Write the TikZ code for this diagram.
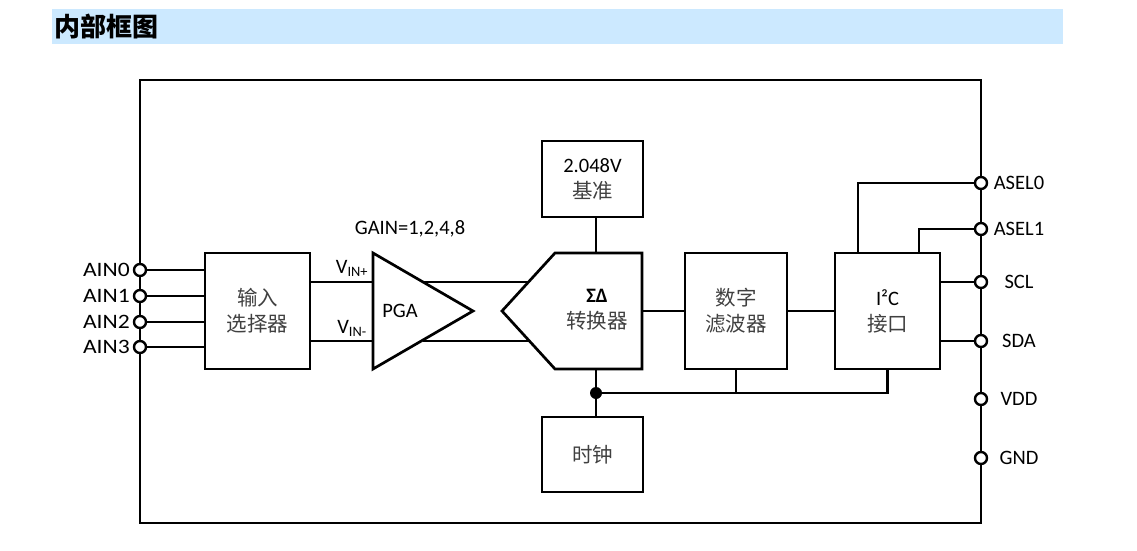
\documentclass[tikz,border=0pt]{standalone}
\usepackage{fontspec}
\setmainfont{Carlito}
\newfontfamily\widefont[FakeStretch=1.15]{Carlito}
\newfontfamily\cjk{Noto Sans CJK SC}
\definecolor{titleblue}{RGB}{204,233,255}
\newcommand\zh[1]{{\cjk\color{black!75}#1}}

\begin{document}
\begin{tikzpicture}[x=1pt, y=-1pt, line join=miter,
    blk/.style={draw, line width=2.7pt, align=center, inner sep=0pt},
    pin/.style={circle, draw, fill=white, line width=2.4pt, minimum size=12pt, inner sep=0pt},
    wire/.style={line width=2.7pt},
    every node/.append style={font=\fontsize{20.5}{26}\selectfont}]
    \useasboundingbox (0,0) rectangle (1137,551);

    % title bar
    \fill [titleblue] (52,9) rectangle (1063,44);
    \node [anchor=west, inner sep=0pt, font=\cjk\bfseries\fontsize{26}{26}\selectfont] (title) at (54,27) {内部框图};

    % chip outline
    \draw [line width=2.7pt] (140,80) rectangle (981,523);

    % blocks
    \node [blk, minimum width=105, minimum height=116] (mux) at (257.5,311) {\zh{输入}\\\zh{选择器}};
    \node [blk, minimum width=101, minimum height=76] (ref) at (592.5,179) {2.048V\\\zh{基准}};
    \node [blk, minimum width=102, minimum height=116] (filt) at (736,311) {\zh{数字}\\\zh{滤波器}};
    \node [blk, minimum width=105, minimum height=116] (i2c) at (887.5,311) {I²C\\\zh{接口}};
    \node [blk, minimum width=101, minimum height=75] (clk) at (592.5,454.5) {\zh{时钟}};

    % PGA
    \coordinate (pgaTL) at (373,253);
    \coordinate (pgaBL) at (373,369);
    \coordinate (pgaTip) at (473,311);
    \draw [wire] (pgaTL) -- (pgaTip) -- (pgaBL) -- cycle;
    \node (pga) at (400,311) {PGA};
    \node (gain) at (410,229) {GAIN=1,2,4,8};
    \coordinate (inP) at (373,282);
    \coordinate (inN) at (373,341);
    \coordinate (pgaP) at (423,282);
    \coordinate (pgaN) at (423,341);

    % sigma-delta converter
    \draw [wire] (555,253) -- (642,253) -- (642,369) -- (555,369) -- (502,311) -- cycle;
    \node [align=center] (adc) at (597,310) {\textbf{ΣΔ}\\\zh{转换器}};
    \coordinate (adcP) at (528.5,282);
    \coordinate (adcN) at (528.5,341);
    \coordinate (adcT) at (596,253);
    \coordinate (adcB) at (596,369);
    \coordinate (adcR) at (642,311);

    % left pins
    \foreach \i/\yy in {0/270, 1/296, 2/322, 3/347} {
        \node [pin] (ain\i) at (140,\yy) {};
        \node [anchor=east, inner sep=0pt, font=\widefont\fontsize{20.5}{26}\selectfont] (ain\i-lbl) at (130,\yy) {AIN\i};
        \draw [wire] (ain\i) -- (ain\i -| mux.west);
    }

    % right pins
    \foreach \name/\txt/\yy in {asel0/ASEL0/183, asel1/ASEL1/229, scl/SCL/282, sda/SDA/341, vdd/VDD/399, gnd/GND/458} {
        \node [pin] (\name) at (981,\yy) {};
        \node [inner sep=0pt] (\name-lbl) at (1019,\yy) {\txt};
    }

    % signal path
    \draw [wire] (mux.east |- inP) -- (inP);
    \draw [wire] (mux.east |- inN) -- (inN);
    \node (vinp) at (352,268) {V\textsubscript{IN+}};
    \node (vinn) at (352,328) {V\textsubscript{IN-}};
    \draw [wire] (pgaP) -- (adcP);
    \draw [wire] (pgaN) -- (adcN);
    \draw [wire] (ref.south -| adcT) -- (adcT);
    \draw [wire] (adcR) -- (filt.west);
    \draw [wire] (filt.east) -- (i2c.west);

    % I2C pins
    \draw [wire] (asel0) -| ([xshift=-29.5pt]i2c.north);
    \draw [wire] (asel1) -| ([xshift=31.5pt]i2c.north);
    \draw [wire] (i2c.east |- scl) -- (scl);
    \draw [wire] (i2c.east |- sda) -- (sda);

    % clock bus
    \coordinate (bus) at (596,393);
    \draw [wire] (adcB) -- (clk.north -| bus);
    \draw [wire] (bus) -- (bus -| i2c.south) -- (i2c.south);
    \draw [wire] (filt.south) -- (filt.south |- bus);
    \fill (bus) circle [radius=6pt];
\end{tikzpicture}
\end{document}
